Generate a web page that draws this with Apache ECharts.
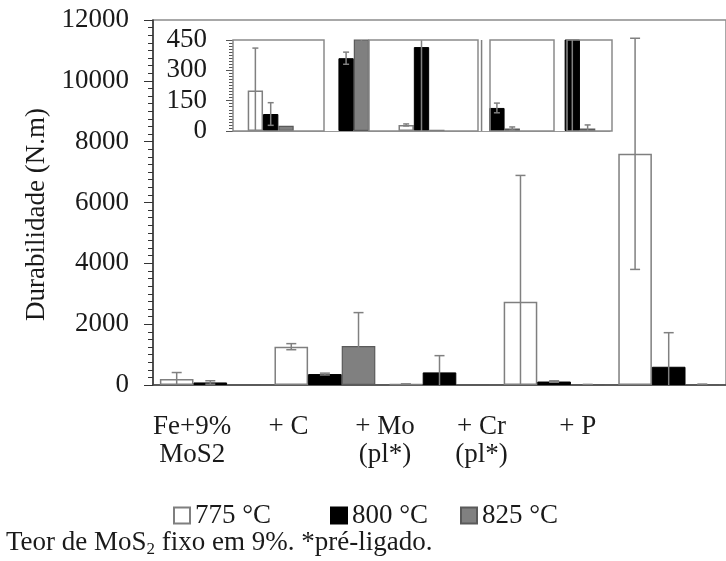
<!DOCTYPE html>
<html><head><meta charset="utf-8">
<script src="https://cdn.jsdelivr.net/npm/echarts@6/dist/echarts.min.js"></script>
<style>html,body{margin:0;padding:0;background:#fff}#c{width:726px;height:561px}</style>
</head><body><div id="c"></div>
<script>
// ---- data ----
const categories = ['Fe+9%\nMoS2', '+ C', '+ Mo\n(pl*)', '+ Cr\n(pl*)', '+ P'];
const seriesNames = ['775 °C', '800 °C', '825 °C'];
const v775 = [200, 1260, 30, 2740, 7600];
const e775 = [210, 100, 5, 4150, 3800];
const v800 = [84, 360, 415, 114, 600];
const e800 = [56, 30, 550, 24, 1120];
const v825 = [26, 1280, 6, 12, 12];
const e825 = [0, 1100, 0, 8, 18];
const mainMin = 0, mainMax = 12000, mainStep = 2000, mainMinorStep = 250;
const insetMin = 0, insetMax = 450, insetStep = 150, insetMinorStep = 15;
const caption = ['Teor de MoS', '2', ' fixo em 9%. *pré-ligado.'];

// ---- styles ----
const FONT = 'Liberation Serif';
const FS = 27;
const TXT = '#1a1a1a';
const styles = [
  {color: '#ffffff', borderColor: '#7f7f7f', borderWidth: 1.5},
  {color: '#000000', borderColor: '#000000', borderWidth: 1},
  {color: '#808080', borderColor: '#5a5a5a', borderWidth: 1.2}
];
const values = [v775, v800, v825];
const errors = [e775, e800, e825];
const MAIN_GAP = 0.12, INSET_GAP = 0.39;

function errRender(idx, gap, capW) {
  return function (params, api) {
    const cat = api.value(0), v = api.value(1), e = api.value(2);
    if (!e) return null;
    const band = api.size([1, 0])[0];
    const bw = band * (1 - gap) / 3;
    const x = api.coord([cat, v])[0] + (idx - 1) * bw;
    const yt = api.coord([cat, v + e])[1];
    const yb = api.coord([cat, v - e])[1];
    const st = {stroke: '#808080', lineWidth: 1.5};
    return {type: 'group', children: [
      {type: 'line', shape: {x1: x, y1: yt, x2: x, y2: yb}, style: st},
      {type: 'line', shape: {x1: x - capW / 2, y1: yt, x2: x + capW / 2, y2: yt}, style: st},
      {type: 'line', shape: {x1: x - capW / 2, y1: yb, x2: x + capW / 2, y2: yb}, style: st}
    ]};
  };
}

const series = [];
for (let i = 0; i < 3; i++) {
  series.push({
    type: 'bar', name: seriesNames[i], xAxisIndex: 0, yAxisIndex: 0,
    data: values[i], barGap: '0%', barCategoryGap: (MAIN_GAP * 100) + '%',
    itemStyle: styles[i], emphasis: {disabled: true}, animation: false
  });
}
for (let i = 0; i < 3; i++) {
  series.push({
    type: 'custom', xAxisIndex: 0, yAxisIndex: 0, clip: true, z: 5,
    renderItem: errRender(i, MAIN_GAP, 10),
    data: values[i].map((v, k) => [k, v, errors[i][k]]), animation: false
  });
}
for (let i = 0; i < 3; i++) {
  series.push({
    type: 'bar', name: seriesNames[i], xAxisIndex: 1, yAxisIndex: 1, clip: true,
    // in the inset, off-scale white bars are left blank (no outline)
    data: values[i].map(v => (i === 0 && v > insetMax) ? {value: v, itemStyle: {borderWidth: 0, borderColor: 'rgba(0,0,0,0)'}} : v),
    barGap: '0%', barCategoryGap: (INSET_GAP * 100) + '%',
    itemStyle: styles[i], emphasis: {disabled: true}, animation: false
  });
}
for (let i = 0; i < 3; i++) {
  series.push({
    type: 'custom', xAxisIndex: 1, yAxisIndex: 1, clip: true, z: 5,
    renderItem: errRender(i, INSET_GAP, 6),
    data: values[i].map((v, k) => [k, v, errors[i][k]]), animation: false
  });
}

const legendBase = {
  orient: 'horizontal', padding: 0, itemWidth: 16, itemHeight: 16, icon: 'rect',
  selectedMode: false, textStyle: {fontFamily: FONT, fontSize: FS, color: TXT}
};
const plain = v => String(v);
const frameStyle = {fill: null, stroke: '#8a8a8a', lineWidth: 1.5};

const option = {
  animation: false,
  textStyle: {fontFamily: FONT},
  title: {
    left: 6, top: 528, padding: 0,
    text: '{a|' + caption[0] + '}{s|' + caption[1] + '}{a|' + caption[2] + '}',
    textStyle: {
      fontFamily: FONT, fontWeight: 'normal',
      rich: {
        a: {fontFamily: FONT, fontSize: FS, color: TXT, lineHeight: 30},
        s: {fontFamily: FONT, fontSize: 17, color: TXT, lineHeight: 16, verticalAlign: 'bottom'}
      }
    }
  },
  legend: [
    Object.assign({}, legendBase, {data: [seriesNames[0]], left: 173, top: 502}),
    Object.assign({}, legendBase, {data: [seriesNames[1]], left: 330, top: 502}),
    Object.assign({}, legendBase, {data: [seriesNames[2]], left: 460, top: 502})
  ],
  grid: [
    {left: 153, top: 20, width: 575, height: 365, show: true, borderColor: '#8c8c8c', borderWidth: 1.5, backgroundColor: 'transparent'},
    {left: 233, top: 40, width: 377, height: 91, show: false},
    {left: 144, top: 20, width: 482, height: 365, show: false}
  ],
  xAxis: [
    {type: 'category', gridIndex: 0, data: categories,
      axisLine: {lineStyle: {color: '#444', width: 1.5}}, axisTick: {show: false}, axisLabel: {show: false}},
    {type: 'category', gridIndex: 1, data: categories,
      axisLine: {lineStyle: {color: '#999', width: 1}}, axisTick: {show: false}, axisLabel: {show: false}},
    {type: 'category', gridIndex: 2, data: categories,
      axisLine: {show: false}, axisTick: {show: false},
      axisLabel: {fontFamily: FONT, fontSize: FS, lineHeight: 28, color: TXT, margin: 28, interval: 0}}
  ],
  yAxis: [
    {type: 'value', gridIndex: 0, position: 'left', min: mainMin, max: mainMax, interval: mainStep,
      name: 'Durabilidade (N.m)', nameLocation: 'middle', nameGap: 100,
      nameTextStyle: {fontFamily: FONT, fontSize: FS, color: TXT, padding: [0, 24, 0, 0]},
      axisLine: {show: true, lineStyle: {color: '#333', width: 1.5}},
      axisTick: {show: true, length: 9, lineStyle: {color: '#333'}},
      splitLine: {show: false},
      axisLabel: {fontFamily: FONT, fontSize: FS, color: TXT, margin: 24, formatter: plain}},
    {type: 'value', gridIndex: 1, position: 'left', min: insetMin, max: insetMax, interval: insetStep,
      axisLine: {show: false},
      axisTick: {show: true, length: 7, lineStyle: {color: '#555'}},
      splitLine: {show: false},
      axisLabel: {fontFamily: FONT, fontSize: FS, color: TXT, margin: 26, formatter: plain}},
    {type: 'value', gridIndex: 2, show: false, min: 0, max: 1},
    {type: 'value', gridIndex: 0, position: 'left', offset: 0, min: mainMin, max: mainMax, interval: mainMinorStep,
      axisLine: {show: false}, axisLabel: {show: false}, splitLine: {show: false},
      axisTick: {show: true, length: 5, lineStyle: {color: '#333'}}},
    {type: 'value', gridIndex: 1, position: 'left', offset: 0, min: insetMin, max: insetMax, interval: insetMinorStep,
      axisLine: {show: false}, axisLabel: {show: false}, splitLine: {show: false},
      axisTick: {show: true, length: 4, lineStyle: {color: '#555'}}}
  ],
  graphic: [
    {type: 'rect', z: 100, shape: {x: 233, y: 40, width: 91, height: 91}, style: frameStyle},
    {type: 'rect', z: 100, shape: {x: 369, y: 40, width: 109, height: 91}, style: frameStyle},
    {type: 'rect', z: 100, shape: {x: 490, y: 40, width: 64, height: 91}, style: frameStyle},
    {type: 'rect', z: 100, shape: {x: 567, y: 40, width: 45, height: 91}, style: frameStyle}
  ],
  series: series
};

const chart = echarts.init(document.getElementById('c'), null, {renderer: 'canvas'});
chart.setOption(option);
</script>
</body></html>
